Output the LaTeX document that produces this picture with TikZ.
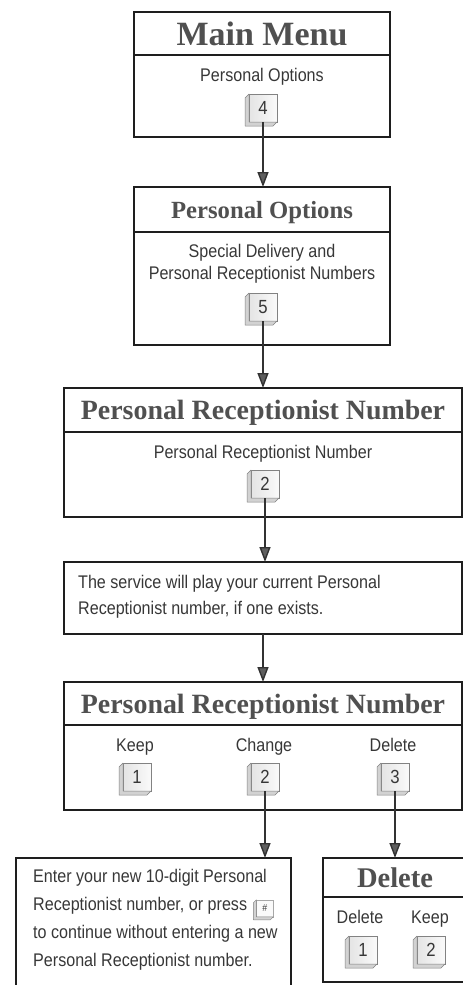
\documentclass[tikz,border=0pt]{standalone}
\usepackage{fontspec}
\newfontfamily\txtfont[FakeStretch=0.88]{Liberation Sans}
\newfontfamily\ttlfont{Liberation Serif}
\usetikzlibrary{positioning,arrows.meta}
\definecolor{ttlgray}{RGB}{80,80,80}
\definecolor{txtgray}{RGB}{55,55,55}
\definecolor{boxline}{RGB}{30,30,30}
\definecolor{keyface}{RGB}{250,250,250}
\definecolor{keyside}{RGB}{210,210,210}
\definecolor{keyedge}{RGB}{130,130,130}
\definecolor{arrowgray}{RGB}{95,95,95}
\definecolor{lineclr}{RGB}{50,50,50}

\begin{document}
\begin{tikzpicture}[
x=1pt,y=-1pt,
ttl/.style={
  draw=boxline,
  line width=1.4pt,
  outer sep=0pt,
  inner sep=0pt,
  text depth=0pt,
  font=\ttlfont\bfseries\fontsize{#1}{#1}\selectfont,
  text=ttlgray
  },
ttl/.default=28,
body/.style={
  draw=boxline,
  line width=1.4pt,
  outer sep=0pt,
  inner sep=0pt
  },
txt/.style={
  inner sep=0pt,
  font=\txtfont\fontsize{18.3}{21.5}\selectfont,
  text=txtgray
  },
keycap/.style={
  draw=keyedge,
  line width=0.7pt,
  left color=keyside!60,
  right color=keyface,
  minimum size=28pt,
  inner sep=0pt,
  outer sep=0pt,
  font=\txtfont\fontsize{19}{19}\selectfont,
  text=txtgray
  },
smallkey/.style={
  draw=keyedge!70,
  line width=0.5pt,
  fill=keyface,
  minimum size=17pt,
  inner sep=0pt,
  outer sep=0pt,
  font=\txtfont\fontsize{10}{10}\selectfont,
  text=txtgray
  },
bevel/.style={
  fill=keyside,
  draw=keyedge,
  line width=0.5pt,
  line join=round
  },
ar/.style={
  -{Triangle[width=11pt,length=15pt,fill=arrowgray]},
  line width=1.4pt,
  draw=lineclr
  }
]
\clip (0,0) rectangle (463,985);

%Main menu
\node[ttl=34,minimum width=256pt,minimum height=43pt] (mm) at (262,33.5)
  {Main Menu};
\node[body,minimum width=256pt,minimum height=82pt,below=0pt of mm] (mmb) {};
\node[txt,anchor=base] (mmt) at (262,81) {Personal Options};
\node[keycap] (k4) at (263,108) {4};

%Personal options
\node[ttl=24.7,minimum width=256pt,minimum height=45pt] (po) at (262,209.5)
  {Personal Options};
\node[body,minimum width=256pt,minimum height=113pt,below=0pt of po] (pob) {};
\node[txt,anchor=base] (pot1) at (262,257.5) {Special Delivery and};
\node[txt,anchor=base] (pot2) at (262,279) {Personal Receptionist Numbers};
\node[keycap] (k5) at (263,307) {5};

%Personal receptionist number
\node[ttl=27.9,minimum width=398pt,minimum height=44pt] (prn) at (263,410)
  {Personal Receptionist Number};
\node[body,minimum width=398pt,minimum height=85pt,below=0pt of prn] (prnb) {};
\node[txt,anchor=base] (prnt) at (263,458.5) {Personal Receptionist Number};
\node[keycap] (kpr) at (265,484) {2};

%Current number
\node[body,minimum width=398pt,minimum height=72pt] (svc) at (263,598) {};
\node[txt,anchor=base west] (svc1) at (78,588.5)
  {The service will play your current Personal};
\node[txt,anchor=base west] (svc2) at (78,614.5)
  {Receptionist number, if one exists.};

%Keep, change or delete
\node[ttl=27.9,minimum width=398pt,minimum height=43pt] (prn2) at (263,703.5)
  {Personal Receptionist Number};
\node[body,minimum width=398pt,minimum height=85pt,below=0pt of prn2] (prn2b) {};
\node[txt,anchor=base] (lkp) at (135,751.5) {Keep};
\node[txt,anchor=base] (lch) at (264,751.5) {Change};
\node[txt,anchor=base] (ldl) at (393,751.5) {Delete};
\node[keycap] (kkp) at (137,777) {1};
\node[keycap] (kch) at (265,777) {2};
\node[keycap] (kdl) at (395,777) {3};

%Delete
\node[ttl=28.5,minimum width=144pt,minimum height=39pt] (del) at (395,877.5)
  {Delete};
\node[body,minimum width=144pt,minimum height=85pt,below=0pt of del] (delb) {};
\node[txt,anchor=base] (ldd) at (360,923.5) {Delete};
\node[txt,anchor=base] (ldk) at (430,923.5) {Keep};
\node[keycap] (kd1) at (363,950) {1};
\node[keycap] (kd2) at (431,950) {2};

%Change
\node[body,minimum width=275pt,minimum height=137pt] (ent) at (153.5,926.5) {};
\node[txt,anchor=base west] (ent1) at (33,882)
  {Enter your new 10-digit Personal};
\node[txt,anchor=base west] (ent2) at (33,910)
  {Receptionist number, or press};
\node[smallkey,right=9pt of ent2.east,yshift=-3pt] (hash) {\#};
\node[txt,anchor=base west] (ent3) at (33,938)
  {to continue without entering a new};
\node[txt,anchor=base west] (ent4) at (33,966)
  {Personal Receptionist number.};

%Key sides
\foreach \k in {k4,k5,kpr,kkp,kch,kdl,kd1,kd2}
  \draw[bevel] (\k.north west) -- ++(-4,4) -- ([shift={(-4,4)}]\k.south west)
    -- ([shift={(-4,4)}]\k.south east) -- (\k.south east) -- (\k.south west) -- cycle;
\draw[bevel] (hash.north west) -- ++(-3,3) -- ([shift={(-3,3)}]hash.south west)
  -- ([shift={(-3,3)}]hash.south east) -- (hash.south east) -- (hash.south west) -- cycle;

\draw[ar] (k4.south) -- (k4.south |- po.north);
\draw[ar] (k5.south) -- (k5.south |- prn.north);
\draw[ar] (kpr.south) -- (kpr.south |- svc.north);
\draw[ar] (svc.south) -- (prn2.north);
\draw[ar] (kch.south) -- (kch.south |- ent.north);
\draw[ar] (kdl.south) -- (kdl.south |- del.north);

\end{tikzpicture}
\end{document}
